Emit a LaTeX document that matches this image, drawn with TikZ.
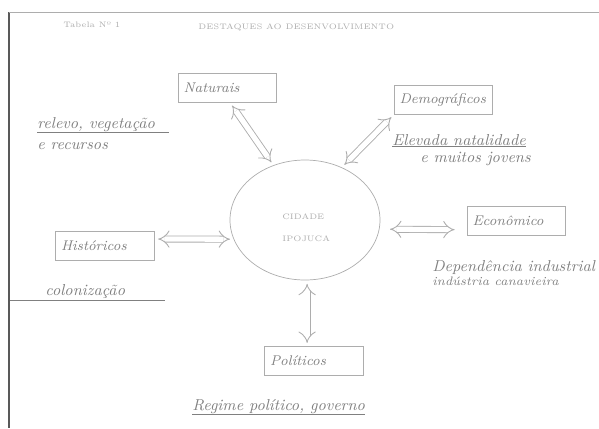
\documentclass[tikz,border=0pt]{standalone}
\usepackage{xcolor}
\usepackage{tikz}
\usetikzlibrary{positioning}
\usetikzlibrary{arrows.meta}
\usetikzlibrary{shapes.geometric}
\pgfdeclarelayer{nodelayer}
\pgfdeclarelayer{edgelayer}
\pgfsetlayers{nodelayer,edgelayer,main}
\definecolor{pencil}{gray}{0.5}
\definecolor{lightpencil}{gray}{0.68}
\tikzset{
    none/.style = {inner sep=0pt},
    box/.style = {draw=lightpencil, rectangle, inner sep=3pt, text width=1.76cm,
        minimum height=0.57cm, align=left, text=pencil, font=\footnotesize\itshape},
    city/.style = {draw=lightpencil, ellipse, minimum width=3cm, minimum height=2.4cm},
    note/.style = {inner sep=0pt, anchor=west, text=pencil, font=\small\itshape},
    tinytext/.style = {inner sep=0pt, anchor=west, text=lightpencil, font=\fontsize{4.5}{5}\selectfont},
    dbl/.style = {draw=lightpencil, double, double distance=3pt, line width=0.5pt,
        {Implies}-{Implies}, shorten >=2pt, shorten <=2pt},
    uline/.style = {draw=pencil, line width=0.4pt}
}

\begin{document}
\begin{tikzpicture}
  \useasboundingbox (0, 0) rectangle (11.98, -8.56);
  % page frame
  \draw [gray!70!black, line width=1pt] (0.18, -0.24) to (0.18, -8.56);
  \draw [lightpencil, line width=0.5pt] (0.18, -0.24) to (11.98, -0.24);
  \begin{pgfonlayer}{nodelayer}
    \node [style=tinytext] (16) at (1.26, -0.5) {Tabela Nº 1};
    \node [style=tinytext] (17) at (3.96, -0.54) {DESTAQUES AO DESENVOLVIMENTO};
    \node [style=city] (0) at (6.1, -4.4) {};
    \node [style=tinytext] (18) at (5.64, -4.34) {CIDADE};
    \node [style=tinytext] (19) at (5.64, -4.78) {IPOJUCA};
    \node [style=box] (1) at (4.55, -1.76) {Naturais};
    \node [style=box] (2) at (8.87, -2.0) {Demográficos};
    \node [style=box] (3) at (2.1, -4.92) {Históricos};
    \node [style=box] (4) at (10.33, -4.42) {Econômico};
    \node [style=box] (5) at (6.28, -7.22) {Políticos};
    \node [style=note] (6) at (0.74, -2.5) {relevo, vegetação};
    \node [style=note] (7) at (0.74, -2.92) {e recursos};
    \node [style=note] (8) at (7.84, -2.8) {Elevada natalidade};
    \node [style=note] (9) at (8.4, -3.18) {e muitos jovens};
    \node [style=note] (10) at (0.9, -5.84) {colonização};
    \node [style=note] (13) at (8.64, -5.36) {Dependência industrial};
    \node [style=note, font=\scriptsize\itshape] (14) at (8.64, -5.62) {indústria canavieira};
    \node [style=note] (15) at (3.84, -8.14) {Regime político, governo};
    \coordinate (11) at (0.2, -6.0);
    \coordinate (12) at (3.3, -6.0);
  \end{pgfonlayer}
  \begin{pgfonlayer}{edgelayer}
    \draw [style=dbl] (1.-80) to (0.120);
    \draw [style=dbl] (2.south west) to (0.55);
    \draw [style=dbl] (3.8) to (0.195);
    \draw [style=dbl, shorten <=6pt, shorten >=7pt] (0.-7) to (4.190);
    \draw [style=dbl] (0.-88) to (0.-88 |- 5.north);
    \draw [style=uline] (6.south west) to ([xshift=8pt]6.south east);
    \draw [style=uline] (8.south west) to (8.south east);
    \draw [style=uline] (11) to (12);
    \draw [style=uline] (15.south west) to (15.south east);
  \end{pgfonlayer}
\end{tikzpicture}
\end{document}
